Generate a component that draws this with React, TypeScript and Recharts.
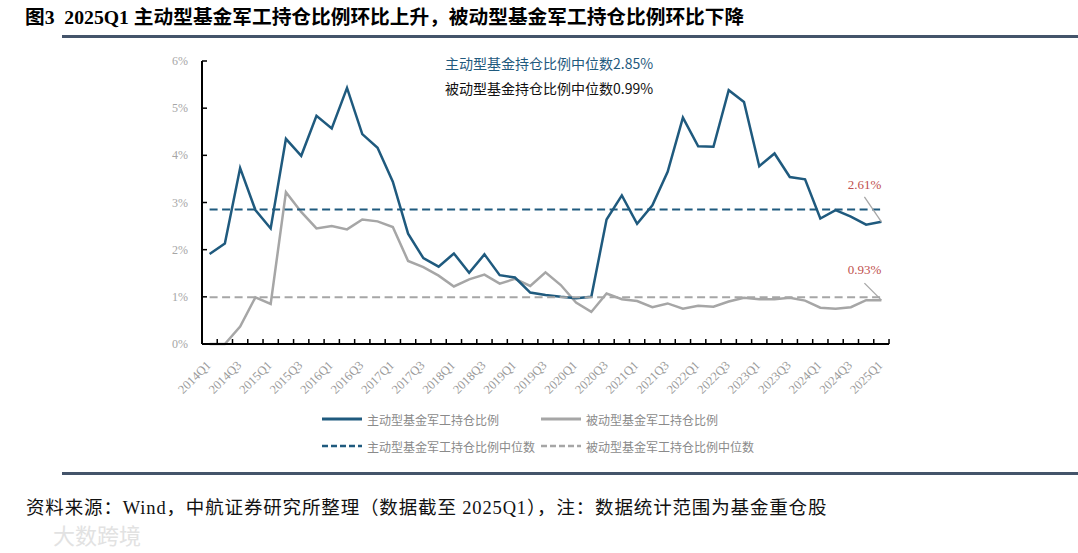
import React from 'react';
import { LineChart, Line, XAxis, YAxis, ReferenceLine, LabelList } from 'recharts';

const quarters = [
  '2014Q1', '2014Q2', '2014Q3', '2014Q4',
  '2015Q1', '2015Q2', '2015Q3', '2015Q4',
  '2016Q1', '2016Q2', '2016Q3', '2016Q4',
  '2017Q1', '2017Q2', '2017Q3', '2017Q4',
  '2018Q1', '2018Q2', '2018Q3', '2018Q4',
  '2019Q1', '2019Q2', '2019Q3', '2019Q4',
  '2020Q1', '2020Q2', '2020Q3', '2020Q4',
  '2021Q1', '2021Q2', '2021Q3', '2021Q4',
  '2022Q1', '2022Q2', '2022Q3', '2022Q4',
  '2023Q1', '2023Q2', '2023Q3', '2023Q4',
  '2024Q1', '2024Q2', '2024Q3', '2024Q4',
  '2025Q1',
];

const activeRatio = [
  1.91, 2.13, 3.73, 2.84, 2.45, 4.35, 3.99, 4.84, 4.57, 5.43,
  4.45, 4.16, 3.44, 2.34, 1.82, 1.64, 1.92, 1.51, 1.90, 1.46,
  1.41, 1.09, 1.04, 1.00, 0.97, 1.00, 2.64, 3.15, 2.55, 2.94,
  3.65, 4.80, 4.19, 4.18, 5.38, 5.13, 3.77, 4.04, 3.54, 3.49,
  2.66, 2.84, 2.70, 2.53, 2.59,
];

const passiveRatio = [
  0.00, 0.00, 0.37, 0.99, 0.85, 3.22, 2.80, 2.45, 2.50, 2.43,
  2.64, 2.60, 2.48, 1.76, 1.63, 1.45, 1.22, 1.37, 1.47, 1.28,
  1.38, 1.23, 1.52, 1.25, 0.88, 0.68, 1.07, 0.95, 0.91, 0.78,
  0.86, 0.75, 0.81, 0.79, 0.90, 0.98, 0.95, 0.95, 0.98, 0.92,
  0.77, 0.75, 0.78, 0.93, 0.93,
];

const yTicks = [0, 1, 2, 3, 4, 5, 6];
const activeMedian = 2.85;
const passiveMedian = 0.99;
const activeLastLabel = '2.61%';
const passiveLastLabel = '0.93%';

const seriesNames = {
  active: '主动型基金军工持仓比例',
  passive: '被动型基金军工持仓比例',
  activeMed: '主动型基金军工持仓比例中位数',
  passiveMed: '被动型基金军工持仓比例中位数',
};

const titleText = '图3  2025Q1 主动型基金军工持仓比例环比上升，被动型基金军工持仓比例环比下降';
const sourceText = '资料来源：Wind，中航证券研究所整理（数据截至 2025Q1），注：数据统计范围为基金重仓股';
const noteActive = '主动型基金持仓比例中位数2.85%';
const notePassive = '被动型基金持仓比例中位数0.99%';

const data = quarters.map((q, i) => ({ q, active: activeRatio[i], passive: passiveRatio[i] }));

const BLUE = '#1f5a7e';
const GRAY = '#a6a6a6';
const RED = '#c0504d';
const SERIF = '"Liberation Serif", "Noto Sans CJK SC", serif';
const SANS = '"Noto Sans CJK SC", "Noto Sans", sans-serif';

const W = 1078;
const H = 553;
const PLOT_LEFT = 202;
const PLOT_RIGHT = 889;
const PAD = 7.6;
const BAND = (PLOT_RIGHT - PLOT_LEFT - 2 * PAD) / (quarters.length - 1);

const XTick = (props: any) => {
  const { x, y, index, payload } = props;
  const bx = x + BAND / 2;
  return (
    <g>
      <line x1={bx} x2={bx} y1={y - 5} y2={y} stroke="#000" strokeWidth={1.5} />
      {index % 2 === 0 && (
        <text
          transform={`translate(${x + 2},${y + 22}) rotate(-45)`}
          textAnchor="end"
          fontSize={12.5}
          fill="#9a9a9a"
          fontFamily={SERIF}
        >
          {payload.value}
        </text>
      )}
    </g>
  );
};

const YTick = (props: any) => {
  const { x, y, payload } = props;
  return (
    <g>
      <line x1={x} x2={x + 5} y1={y} y2={y} stroke="#000" strokeWidth={1.5} />
      <text x={x - 14} y={y + 4} textAnchor="end" fontSize={12} fill="#a6a6a6" fontFamily={SERIF}>
        {`${payload.value}%`}
      </text>
    </g>
  );
};

const makeEndLabel = (text: string, dx: number, dy: number, ty: number) => (props: any) => {
  const { x, y, index } = props;
  if (index !== quarters.length - 1) return null;
  return (
    <g>
      <line x1={x - dx} y1={y - dy} x2={x} y2={y} stroke={GRAY} strokeWidth={1.3} />
      <text x={x} y={y - ty} textAnchor="end" fontSize={13} fill={RED} fontFamily={SERIF}>
        {text}
      </text>
    </g>
  );
};

const LegendItem = ({ left, top, color, dashed, label }: any) => (
  <div style={{ position: 'absolute', left, top, height: 16, display: 'flex', alignItems: 'center' }}>
    <svg width={40} height={6} style={{ display: 'block' }}>
      <line
        x1={0}
        x2={40}
        y1={3}
        y2={3}
        stroke={color}
        strokeWidth={dashed ? 2.5 : 3}
        strokeDasharray={dashed ? '6 3' : undefined}
      />
    </svg>
    <span style={{ marginLeft: 5, fontSize: 12, color: '#8a8a8a', fontFamily: SANS, whiteSpace: 'nowrap' }}>{label}</span>
  </div>
);

export default function App() {
  return (
    <div style={{ position: 'absolute', left: 0, top: 0, width: W, height: H, background: '#fff', overflow: 'hidden' }}>
      <div
        style={{
          position: 'absolute',
          left: 25,
          top: 5,
          fontSize: 19.7,
          lineHeight: '24px',
          fontWeight: 'bold',
          fontFamily: SERIF,
          color: '#000',
          whiteSpace: 'pre',
        }}
      >
        {titleText}
      </div>
      <div style={{ position: 'absolute', left: 62, top: 35, width: W - 62, height: 3, background: '#44546a' }} />

      <LineChart
        width={W}
        height={H}
        data={data}
        margin={{ top: 61, right: W - PLOT_RIGHT, bottom: 0, left: 0 }}
        style={{ position: 'absolute', left: 0, top: 0 }}
      >
        <XAxis
          dataKey="q"
          interval={0}
          height={209}
          tickLine={false}
          tickSize={0}
          tickMargin={0}
          padding={{ left: PAD, right: PAD }}
          axisLine={{ stroke: '#000', strokeWidth: 2 }}
          tick={<XTick />}
        />
        <YAxis
          width={PLOT_LEFT}
          domain={[0, 6]}
          ticks={yTicks}
          interval={0}
          tickLine={false}
          tickSize={0}
          tickMargin={0}
          axisLine={{ stroke: '#000', strokeWidth: 2 }}
          tick={<YTick />}
        />
        <Line
          dataKey="passive"
          name={seriesNames.passive}
          stroke={GRAY}
          strokeWidth={2.5}
          dot={false}
          isAnimationActive={false}
        >
          <LabelList dataKey="passive" content={makeEndLabel(passiveLastLabel, 17, 17, 26)} />
        </Line>
        <Line
          dataKey="active"
          name={seriesNames.active}
          stroke={BLUE}
          strokeWidth={2.5}
          dot={false}
          isAnimationActive={false}
        >
          <LabelList dataKey="active" content={makeEndLabel(activeLastLabel, 17, 25, 33)} />
        </Line>
        <ReferenceLine
          segment={[
            { x: quarters[0], y: activeMedian },
            { x: quarters[quarters.length - 1], y: activeMedian },
          ]}
          stroke={BLUE}
          strokeWidth={2}
          strokeDasharray="8 4.5"
        />
        <ReferenceLine
          segment={[
            { x: quarters[0], y: passiveMedian },
            { x: quarters[quarters.length - 1], y: passiveMedian },
          ]}
          stroke={GRAY}
          strokeWidth={2}
          strokeDasharray="8 4.5"
        />
      </LineChart>

      <div style={{ position: 'absolute', left: 445, top: 54, fontSize: 14, lineHeight: '18px', color: BLUE, fontFamily: SANS, whiteSpace: 'nowrap' }}>
        {noteActive}
      </div>
      <div style={{ position: 'absolute', left: 445, top: 79, fontSize: 14, lineHeight: '18px', color: '#111', fontFamily: SANS, whiteSpace: 'nowrap' }}>
        {notePassive}
      </div>

      <LegendItem left={322} top={411} color={BLUE} label={seriesNames.active} />
      <LegendItem left={541} top={411} color={GRAY} label={seriesNames.passive} />
      <LegendItem left={322} top={438} color={BLUE} dashed label={seriesNames.activeMed} />
      <LegendItem left={541} top={438} color={GRAY} dashed label={seriesNames.passiveMed} />

      <div style={{ position: 'absolute', left: 62, top: 472, width: W - 62, height: 3, background: '#44546a' }} />
      <div
        style={{
          position: 'absolute',
          left: 26,
          top: 496,
          fontSize: 18.5,
          letterSpacing: 0.85,
          lineHeight: '24px',
          fontFamily: SERIF,
          color: '#111',
          whiteSpace: 'nowrap',
        }}
      >
        {sourceText}
      </div>
      <div
        style={{
          position: 'absolute',
          left: 53,
          top: 521,
          fontSize: 22,
          lineHeight: '26px',
          fontFamily: SANS,
          color: '#e2e2e2',
          whiteSpace: 'nowrap',
        }}
      >
        大数跨境
      </div>
    </div>
  );
}
